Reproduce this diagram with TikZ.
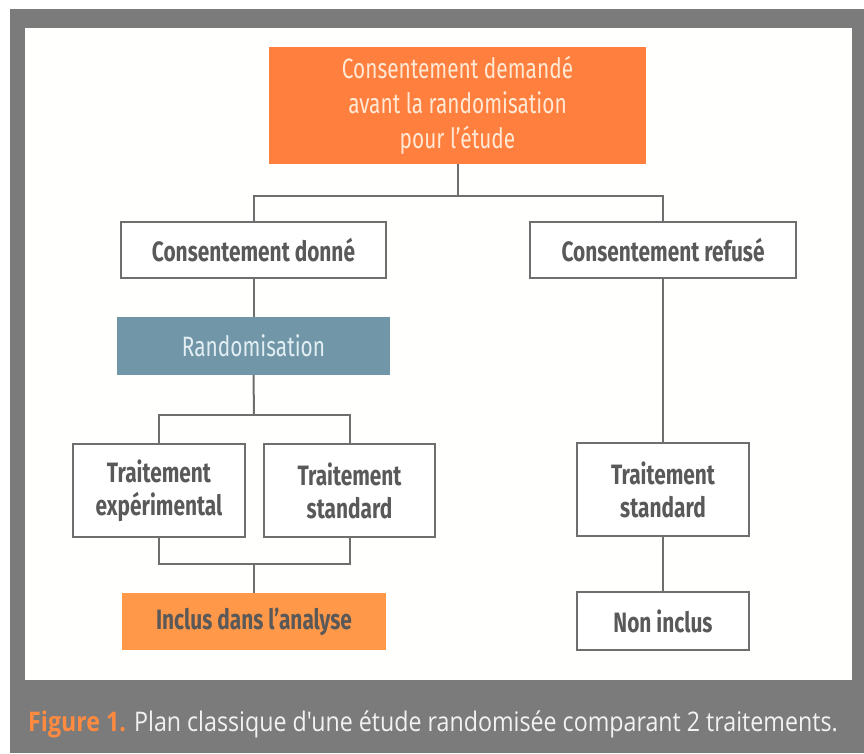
\documentclass[tikz,border=0pt]{standalone}
\usepackage{fontspec}
\setmainfont[FakeStretch=0.745]{Fira Sans}
\newfontfamily\capfont[FakeStretch=0.86]{Open Sans}
\definecolor{bgGrey}{HTML}{7B7B7B}
\definecolor{panel}{HTML}{FFFFFD}
\definecolor{topOrange}{HTML}{FF7F3F}
\definecolor{lightOrange}{HTML}{FF9848}
\definecolor{blueGrey}{HTML}{7096A7}
\definecolor{lineGrey}{HTML}{6E6E6E}
\definecolor{txtGrey}{HTML}{595959}
\definecolor{creamTxt}{HTML}{FFE8D4}
\definecolor{paleBlue}{HTML}{E2EEF3}
\definecolor{capWhite}{HTML}{F2F2F2}
\definecolor{capOrange}{HTML}{FF8A40}
\tikzset{
  box/.style={draw=lineGrey, line width=2pt, fill=white, text=txtGrey, align=center,
    inner sep=0pt, font=\fontsize{28}{33}\selectfont\bfseries},
  filled/.style={draw=none, align=center, inner sep=0pt, font=\fontsize{28}{33}\selectfont\bfseries},
  conn/.style={draw=lineGrey, line width=2pt}
}
\begin{document}
\begin{tikzpicture}[x=1pt,y=-1pt]
\useasboundingbox (0,0) rectangle (864,753);
\fill[white] (0,0) rectangle (864,753);
\fill[bgGrey] (10,9) rectangle (864,753);
\fill[panel] (25,28) rectangle (852,680);

\node[filled, fill=topOrange, text=creamTxt, minimum width=377pt, minimum height=117pt, font=\fontsize{28}{35}\selectfont] (top) at (457.5,105.5)
  {Consentement demandé\\avant la randomisation\\pour l’étude};
\node[box, minimum width=265pt, minimum height=56pt] (donne) at (253.5,250) {Consentement donné};
\node[box, minimum width=266pt, minimum height=56pt] (refuse) at (663,250) {Consentement refusé};
\node[filled, fill=blueGrey, text=paleBlue, minimum width=273pt, minimum height=58pt, font=\fontsize{28}{33}\selectfont] (rando) at (253.5,346) {Randomisation};
\node[box, minimum width=172pt, minimum height=93pt] (exp) at (159,490.5) {Traitement\\expérimental};
\node[box, minimum width=171pt, minimum height=93pt] (std1) at (349.5,490.5) {Traitement\\standard};
\node[filled, fill=lightOrange, text=txtGrey, minimum width=264pt, minimum height=57pt] (inclus) at (254,621.5) {Inclus dans l’analyse};
\node[box, minimum width=172pt, minimum height=93pt] (std2) at (663,489.5) {Traitement\\standard};
\node[box, minimum width=172pt, minimum height=58pt] (non) at (663,621) {Non inclus};

\coordinate (split1) at (457.5,196);
\coordinate (split2) at (254,415);
\coordinate (join) at (254,564);

\draw[conn] (top.south) -- (split1);
\draw[conn] (donne.north) |- (split1) -| (refuse.north);
\draw[conn] (donne.south) -- (rando.north);
\draw[conn] (rando.south) -- (split2);
\draw[conn] (exp.north) |- (split2) -| (std1.north);
\draw[conn] (exp.south) |- (join) -| (std1.south);
\draw[conn] (join) -- (inclus.north);
\draw[conn] (refuse.south) -- (std2.north);
\draw[conn] (std2.south) -- (non.north);

\node[anchor=base west, inner sep=0pt, font=\capfont\fontsize{27}{31}\selectfont] (cap) at (28,731)
  {\textcolor{capOrange}{\bfseries Figure 1.} \textcolor{capWhite}{Plan classique d'une étude randomisée comparant 2 traitements.}};
\end{tikzpicture}
\end{document}
